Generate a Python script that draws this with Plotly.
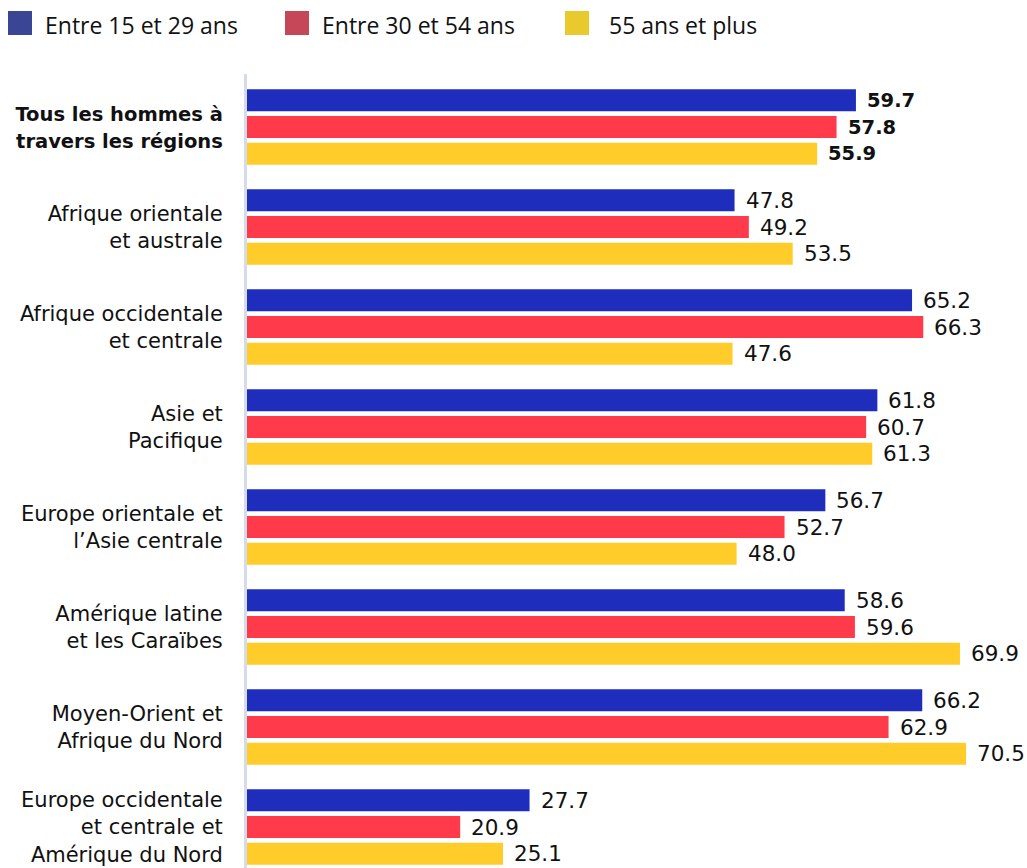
import plotly.graph_objects as go

regions = [
    "<b><span style=\"font-size:19.5px\">Tous les hommes à<br>travers les régions</span></b>",
    "Afrique orientale<br>et australe",
    "Afrique occidentale<br>et centrale",
    "Asie et<br>Pacifique",
    "Europe orientale et<br>l’Asie centrale",
    "Amérique latine<br>et les Caraïbes",
    "Moyen-Orient et<br>Afrique du Nord",
    "Europe occidentale<br>et centrale et<br>Amérique du Nord",
]
series_names = ["Entre 15 et 29 ans", "Entre 30 et 54 ans", "55 ans et plus"]
age_15_29 = [59.7, 47.8, 65.2, 61.8, 56.7, 58.6, 66.2, 27.7]
age_30_54 = [57.8, 49.2, 66.3, 60.7, 52.7, 59.6, 62.9, 20.9]
age_55_plus = [55.9, 53.5, 47.6, 61.3, 48.0, 69.9, 70.5, 25.1]

bar_colors = ["#1f2dbd", "#ff3b4b", "#ffcc2a"]
legend_colors = ["#3a4595", "#c64858", "#e8c92e"]
series_values = [age_15_29, age_30_54, age_55_plus]

W, H = 1027, 868
L, T = 247, 74
PX_PER_UNIT = 10.2
CAT_PX = 100.0
SLOT_PX = 26.7

LABEL_FONT = "DejaVu Sans, sans-serif"
LEGEND_FONT = "Open Sans, sans-serif"

fig = go.Figure()
for name, vals, col in zip(series_names, series_values, bar_colors):
    fig.add_trace(go.Bar(
        y=regions, x=vals, name=name, orientation="h",
        marker=dict(color=col, line=dict(width=0)),
        showlegend=False, hoverinfo="x+name",
    ))

# value labels next to each bar (the all-regions row in bold)
annotations = []
for s, vals in enumerate(series_values):
    for i, (reg, v) in enumerate(zip(regions, vals)):
        txt = f"{v:.1f}"
        if i == 0:
            txt = f"<b><span style=\"font-size:19.5px\">{txt}</span></b>"
        annotations.append(dict(
            x=v, y=reg, xref="x", yref="y", text=txt, showarrow=False,
            xanchor="left", yanchor="middle", xshift=9,
            yshift=(1 - s) * SLOT_PX,
            font=dict(family=LABEL_FONT, size=21.5, color="#111111"),
        ))

# legend drawn as squares with labels across the top
shapes = []
legend_x = [8, 285, 565]
legend_text_x = [43, 320, 607]
for name, col, sx, tx in zip(series_names, legend_colors, legend_x, legend_text_x):
    shapes.append(dict(
        type="rect", xref="paper", yref="paper",
        xsizemode="pixel", ysizemode="pixel", xanchor=0, yanchor=1,
        x0=sx - L, x1=sx + 24 - L, y0=T - 35, y1=T - 11,
        fillcolor=col, line=dict(width=0),
    ))
    annotations.append(dict(
        x=0, y=1, xref="paper", yref="paper", text=name, showarrow=False,
        xanchor="left", yanchor="middle", xshift=tx - L, yshift=T - 25,
        font=dict(family=LEGEND_FONT, size=23, color="#111111"),
    ))

plot_h = H - T
top = -0.5 - (77 - T) / CAT_PX
bottom = top + plot_h / CAT_PX

fig.update_layout(
    width=W, height=H,
    margin=dict(l=L, r=0, t=T, b=0, pad=0, autoexpand=False),
    paper_bgcolor="white", plot_bgcolor="white",
    barmode="group", bargap=0.2, bargroupgap=0.175,
    xaxis=dict(range=[0, (W - L) / PX_PER_UNIT], visible=False, fixedrange=True,
               automargin=False),
    yaxis=dict(
        range=[bottom, top], showgrid=False, zeroline=False,
        showline=True, linecolor="#d3dce8", linewidth=3,
        ticks="", ticklabelstandoff=17, automargin=False,
        tickfont=dict(family=LABEL_FONT, size=21, color="#111111"),
        fixedrange=True,
    ),
    shapes=shapes,
    annotations=annotations,
    showlegend=False,
)

fig.write_html("out.html")
